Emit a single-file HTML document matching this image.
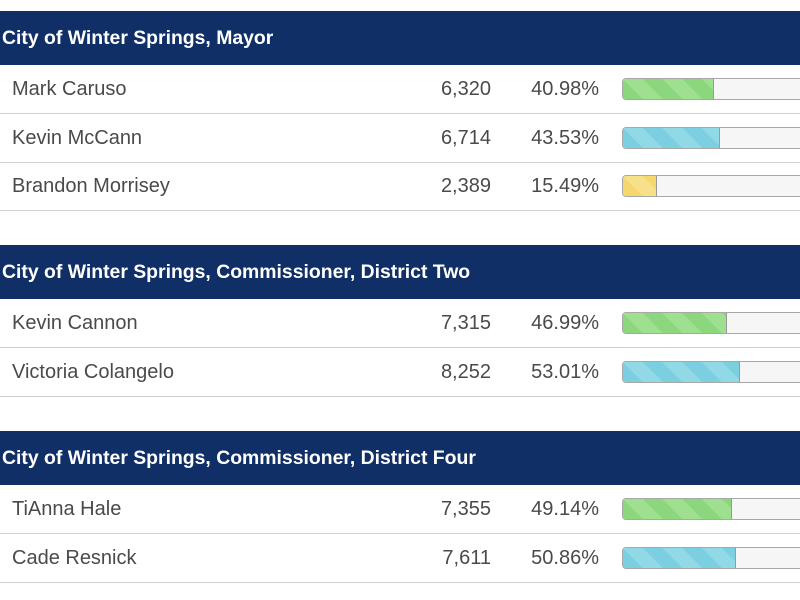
<!DOCTYPE html>
<html><head><meta charset="utf-8"><style>
body{margin:0;width:800px;height:600px;background:#fff;overflow:hidden;position:relative;font-family:"Liberation Sans",sans-serif;}
.h{position:absolute;left:0;width:800px;height:54px;background:#0f2f66;color:#fff;font-size:19.4px;font-weight:bold;line-height:54px;padding-left:2px;box-sizing:border-box;}
.r{position:absolute;left:0;width:800px;height:48px;border-bottom:1px solid #d0d0d0;color:#4a4a4a;font-size:20px;}
.n{position:absolute;left:12px;top:13px;}
.v{position:absolute;right:309px;top:13px;}
.p{position:absolute;right:201px;top:13px;}
.b{position:absolute;left:622px;top:13px;width:222px;height:20px;border:1px solid #a8a8a8;border-radius:4px;background:#f6f6f6;overflow:hidden;}
.f{height:100%;border-right:1px solid #999;}
.g{background:repeating-linear-gradient(45deg,#8cd67e 0 14px,#9fe090 14px 28px);}
.c{background:repeating-linear-gradient(45deg,#7ccfe0 0 14px,#92d9e8 14px 28px);}
.y{background:repeating-linear-gradient(45deg,#f5d76e 0 14px,#f7e08a 14px 28px);}
</style></head><body>
<div class="h" style="top:11px">City of Winter Springs, Mayor</div>
<div class="r" style="top:65px"><span class="n">Mark Caruso</span><span class="v">6,320</span><span class="p">40.98%</span><div class="b"><div class="f g" style="width:90px"></div></div></div>
<div class="r" style="top:114px"><span class="n">Kevin McCann</span><span class="v">6,714</span><span class="p">43.53%</span><div class="b"><div class="f c" style="width:96px"></div></div></div>
<div class="r" style="top:162px"><span class="n">Brandon Morrisey</span><span class="v">2,389</span><span class="p">15.49%</span><div class="b"><div class="f y" style="width:33px"></div></div></div>

<div class="h" style="top:245px">City of Winter Springs, Commissioner, District Two</div>
<div class="r" style="top:299px"><span class="n">Kevin Cannon</span><span class="v">7,315</span><span class="p">46.99%</span><div class="b"><div class="f g" style="width:103px"></div></div></div>
<div class="r" style="top:348px"><span class="n">Victoria Colangelo</span><span class="v">8,252</span><span class="p">53.01%</span><div class="b"><div class="f c" style="width:116px"></div></div></div>

<div class="h" style="top:431px">City of Winter Springs, Commissioner, District Four</div>
<div class="r" style="top:485px"><span class="n">TiAnna Hale</span><span class="v">7,355</span><span class="p">49.14%</span><div class="b"><div class="f g" style="width:108px"></div></div></div>
<div class="r" style="top:534px"><span class="n">Cade Resnick</span><span class="v">7,611</span><span class="p">50.86%</span><div class="b"><div class="f c" style="width:112px"></div></div></div>
</body></html>
